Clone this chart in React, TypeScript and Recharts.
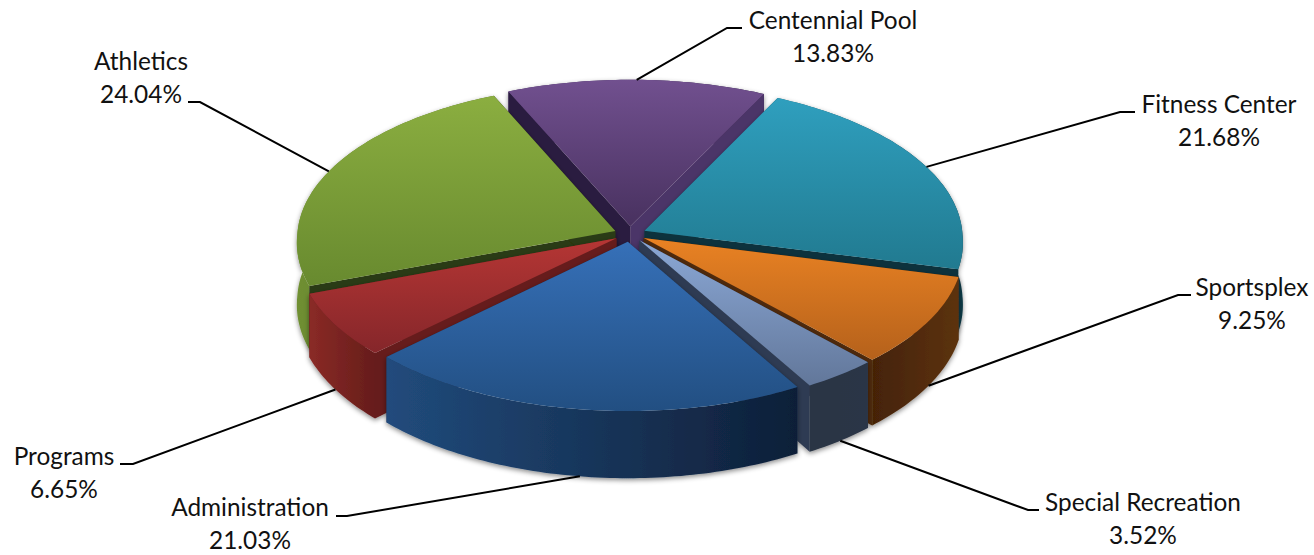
import { Pie, PieChart } from 'recharts'

const SLICE_NAMES = [
  'Fitness Center',
  'Sportsplex',
  'Special Recreation',
  'Administration',
  'Programs',
  'Athletics',
  'Centennial Pool',
]
const SLICE_VALUES = [21.68, 9.25, 3.52, 21.03, 6.65, 24.04, 13.83]

// slices painted from the back of the pie to the front
const WALL_ORDER = [6, 5, 0, 1, 4, 2, 3]

const TOP_COLORS = [
  ['#2f9fbe', '#217a90'],
  ['#e98223', '#b5611b'],
  ['#8ba8d6', '#62779a'],
  ['#3670b8', '#224f82'],
  ['#b53634', '#85262a'],
  ['#8bae40', '#688a2f'],
  ['#71508f', '#48315f'],
]
const WALL_COLORS = [
  ['#1c6678', '#0f3a46'],
  ['#452306', '#5c3210'],
  ['#2a3444', '#2c3646'],
  ['#214b7c', '#0e1f38'],
  ['#8a2a26', '#661d1b'],
  ['#6f8f33', '#556e26'],
  ['#4d3468', '#2c1e42'],
]
const START_FACE = ['#16414c', '#4c2808', '#2f3b50', '#1a3150', '#661d1c', '#2c3a12', '#2a1c3f']
const END_FACE = ['#0f333c', '#4f2a08', '#2f3b52', '#1a3150', '#661d1c', '#2c3a12', '#4c3468']

// text centre, first baseline, and the elbow of the leader line
const LABEL_LAYOUT = [
  { x: 1219, y: 113, elbow: [1120, 112], end: [1135, 112] },
  { x: 1252, y: 296, elbow: [1178, 295], end: [1191, 295] },
  { x: 1143, y: 511, elbow: [1028, 510], end: [1039, 510] },
  { x: 250, y: 516, elbow: [347, 516], end: [336, 516] },
  { x: 64, y: 465, elbow: [133, 464], end: [120, 464] },
  { x: 141, y: 70, elbow: [200, 102], end: [188, 102] },
  { x: 833, y: 29, elbow: [727, 28], end: [742, 28] },
]

const chartData = SLICE_NAMES.map((name, i) => ({ name, value: SLICE_VALUES[i] }))

const RATIO = 0.49
const FRONT_PERSPECTIVE = 0.0725
const BACK_PERSPECTIVE_X = 0.05
const BACK_PERSPECTIVE_Y = 0.058
const DEPTH = 62
const EXPLODE = 16
const RAD = Math.PI / 180

function project(p: any, a: number, r: number, off: number, z: number) {
  const mid = ((p.startAngle + p.endAngle) / 2) * RAD
  const X = r * Math.cos(a * RAD) + off * Math.cos(mid)
  const Y = -r * Math.sin(a * RAD) - off * Math.sin(mid)
  const t = Y / p.outerRadius
  const sx = 1 / (1 - (t > 0 ? FRONT_PERSPECTIVE : BACK_PERSPECTIVE_X) * t)
  const sy = 1 / (1 - (t > 0 ? FRONT_PERSPECTIVE : BACK_PERSPECTIVE_Y) * t)
  return [p.cx + X * sx, p.cy + (Y * RATIO + z) * sy]
}

function arcPoints(p: any, from: number, to: number, z: number) {
  const steps = Math.max(2, Math.ceil(Math.abs(to - from)))
  const pts = []
  for (let i = 0; i <= steps; i++) {
    pts.push(project(p, from + ((to - from) * i) / steps, p.outerRadius, EXPLODE, z))
  }
  return pts
}

const toPath = (pts: number[][]) =>
  'M' + pts.map((q) => q[0].toFixed(2) + ' ' + q[1].toFixed(2)).join('L') + 'Z'

function TopFace(p: any) {
  const i = SLICE_NAMES.indexOf(p.name)
  const apex = project(p, 0, 0, EXPLODE, 0)
  return <path d={toPath([apex, ...arcPoints(p, p.startAngle, p.endAngle, 0)])} fill={`url(#top${i})`} />
}

function face(p: any, angle: number) {
  const apex = project(p, 0, 0, EXPLODE, 0)
  const apexLow = project(p, 0, 0, EXPLODE, DEPTH)
  const rim = project(p, angle, p.outerRadius, EXPLODE, 0)
  const rimLow = project(p, angle, p.outerRadius, EXPLODE, DEPTH)
  return toPath([apex, rim, rimLow, apexLow])
}

function Wall(p: any) {
  const i = SLICE_NAMES.indexOf(p.name)
  const rimTop = arcPoints(p, p.startAngle, p.endAngle, 0)
  const rimLow = arcPoints(p, p.endAngle, p.startAngle, DEPTH)
  const outer = <path d={toPath([...rimTop, ...rimLow])} fill={`url(#wall${i})`} />
  // on back slices the rim faces away, so the cut faces go over it
  const isBack = Math.sin(((p.startAngle + p.endAngle) / 2) * RAD) > 0
  return (
    <g filter="url(#wallShadow)">
      {isBack && outer}
      <path d={face(p, p.startAngle)} fill={START_FACE[i]} />
      <path d={face(p, p.endAngle)} fill={END_FACE[i]} />
      {!isBack && outer}
    </g>
  )
}

function SliceLabel(p: any) {
  const i = p.index
  const l = LABEL_LAYOUT[i]
  const a = p.midAngle
  const front = Math.sin(a * RAD) < -0.3
  const sector = { ...p, startAngle: a, endAngle: a }
  const start = project(sector, a, p.outerRadius, EXPLODE, front ? DEPTH : 0)
  return (
    <g>
      <polyline
        points={`${start[0]},${start[1]} ${l.elbow[0]},${l.elbow[1]} ${l.end[0]},${l.end[1]}`}
        fill="none"
        stroke="#000"
        strokeWidth={2}
      />
      <text x={l.x} y={l.y} textAnchor="middle" fontFamily="Lato" fontSize={24.4} fill="#111">
        {SLICE_NAMES[i]}
      </text>
      <text x={l.x} y={l.y + 33} textAnchor="middle" fontFamily="Lato" fontSize={24.4} fill="#111">
        {SLICE_VALUES[i].toFixed(2)}%
      </text>
    </g>
  )
}

const pieProps = {
  data: chartData,
  dataKey: 'value',
  nameKey: 'name',
  cx: 630,
  cy: 234,
  outerRadius: 318,
  startAngle: 63.9,
  endAngle: -296.1,
  isAnimationActive: false,
  stroke: 'none',
}

export default function App() {
  return (
    <div style={{ position: 'absolute', left: 0, top: 0 }}>
      <PieChart width={1314} height={555} margin={{ top: 0, right: 0, bottom: 0, left: 0 }}>
        <defs>
          <filter id="wallShadow" x="-10%" y="-10%" width="120%" height="125%">
            <feDropShadow dx={0} dy={2} stdDeviation={2.5} floodColor="#000" floodOpacity={0.45} />
          </filter>
          {TOP_COLORS.map((c, i) => (
            <linearGradient key={i} id={`top${i}`} x1="0" y1="0" x2="0" y2="1">
              <stop offset="0%" stopColor={c[0]} />
              <stop offset="100%" stopColor={c[1]} />
            </linearGradient>
          ))}
          {WALL_COLORS.map((c, i) => (
            <linearGradient key={i} id={`wall${i}`} x1="0" y1="0" x2="1" y2="0">
              <stop offset="0%" stopColor={c[0]} />
              <stop offset="100%" stopColor={c[1]} />
            </linearGradient>
          ))}
        </defs>
        {WALL_ORDER.map((slice) => (
          <Pie
            key={slice}
            {...pieProps}
            shape={(p: any) => (SLICE_NAMES.indexOf(p.name) === slice ? <Wall {...p} /> : <g />)}
            labelLine={false}
            label={false}
          />
        ))}
        <Pie {...pieProps} shape={(p: any) => <TopFace {...p} />} labelLine={false} label={(p: any) => <SliceLabel {...p} />} />
      </PieChart>
    </div>
  )
}
